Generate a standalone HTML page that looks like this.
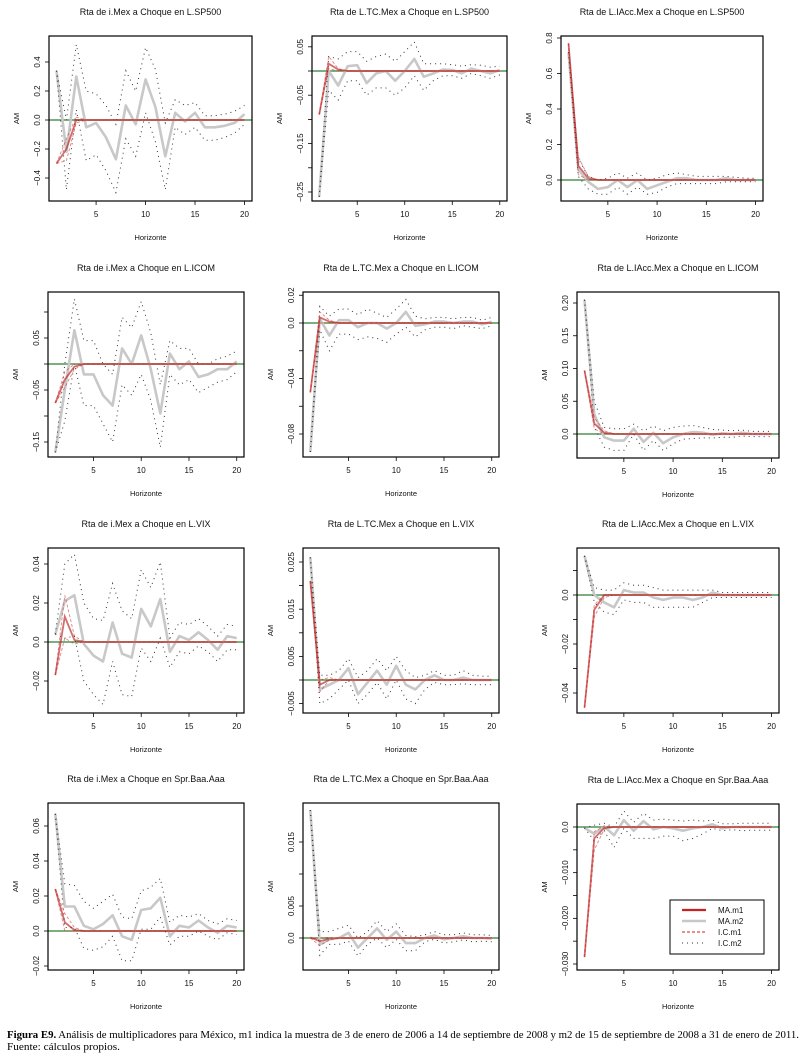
<!DOCTYPE html>
<html><head><meta charset="utf-8"><style>
html,body{margin:0;padding:0;background:#fff;}
svg{display:block;font-family:"Liberation Sans",Arial,sans-serif;}
</style></head><body>
<svg id="fig" width="812" height="1064" viewBox="0 0 812 1064" xmlns="http://www.w3.org/2000/svg">
<text x="7" y="1038" font-family="Liberation Serif, serif" font-size="10" textLength="792" lengthAdjust="spacingAndGlyphs"><tspan font-weight="bold">Figura E9.</tspan>   Análisis de multiplicadores para México, m1 indica la muestra de 3 de enero de 2006 a 14 de septiembre de 2008 y m2 de 15 de septiembre de 2008 a 31 de enero de 2011.</text>
<text x="7" y="1050" font-family="Liberation Serif, serif" font-size="10" textLength="113" lengthAdjust="spacingAndGlyphs">Fuente: cálculos propios.</text>
</svg>
<script>
const horizons=[1,2,3,4,5,6,7,8,9,10,11,12,13,14,15,16,17,18,19,20];
const titles=["Rta de i.Mex a Choque en L.SP500","Rta de L.TC.Mex a Choque en L.SP500","Rta de L.IAcc.Mex a Choque en L.SP500",
"Rta de i.Mex a Choque en L.ICOM","Rta de L.TC.Mex a Choque en L.ICOM","Rta de L.IAcc.Mex a Choque en L.ICOM",
"Rta de i.Mex a Choque en L.VIX","Rta de L.TC.Mex a Choque en L.VIX","Rta de L.IAcc.Mex a Choque en L.VIX",
"Rta de i.Mex a Choque en Spr.Baa.Aaa","Rta de L.TC.Mex a Choque en Spr.Baa.Aaa","Rta de L.IAcc.Mex a Choque en Spr.Baa.Aaa"];
const yTicks=[[-0.4,-0.2,0,0.2,0.4],[-0.25,-0.2,-0.15,-0.1,-0.05,0,0.05],[0,0.2,0.4,0.6,0.8],
[-0.15,-0.1,-0.05,0,0.05,0.1],[-0.08,-0.06,-0.04,-0.02,0,0.02],[0,0.05,0.1,0.15,0.2],
[-0.02,0,0.02,0.04],[-0.005,0,0.005,0.01,0.015,0.02,0.025],[-0.04,-0.03,-0.02,-0.01,0,0.01],
[-0.02,0,0.02,0.04,0.06],[0,0.005,0.01,0.015],[-0.03,-0.025,-0.02,-0.015,-0.01,-0.005,0]];
const yLabels=[["-0.4","-0.2","0.0","0.2","0.4"],["-0.25","","-0.15","","-0.05","","0.05"],["0.0","0.2","0.4","0.6","0.8"],
["-0.15","","-0.05","","0.05",""],["-0.08","","-0.04","","0.0","0.02"],["0.0","0.05","0.10","0.15","0.20"],
["-0.02","0.0","0.02","0.04"],["-0.005","","0.005","","0.015","","0.025"],["-0.04","","-0.02","","0.0",""],
["-0.02","0.0","0.02","0.04","0.06"],["0.0","0.005","","0.015"],["-0.030","","-0.020","","-0.010","","0.0"]];
const xTicks=[5,10,15,20];
const m1=[
[-0.30,-0.20,0.0,0,0,0,0,0,0,0,0,0,0,0,0,0,0,0,0,0],
[-0.09,0.015,0.003,0,0,0,0,0,0,0,0,0,0,0,0,0,0,0,0,0],
[0.77,0.08,0.01,0,0,0,0,0,0,0,0,0,0,0,0,0,0,0,0,0],
[-0.075,-0.03,-0.005,0,0,0,0,0,0,0,0,0,0,0,0,0,0,0,0,0],
[-0.05,0.004,0.001,0,0,0,0,0,0,0,0,0,0,0,0,0,0,0,0,0],
[0.097,0.016,0.002,0,0,0,0,0,0,0,0,0,0,0,0,0,0,0,0,0],
[-0.017,0.013,0.001,0,0,0,0,0,0,0,0,0,0,0,0,0,0,0,0,0],
[0.021,-0.001,0.0,0,0,0,0,0,0,0,0,0,0,0,0,0,0,0,0,0],
[-0.046,-0.006,0,0,0,0,0,0,0,0,0,0,0,0,0,0,0,0,0,0],
[0.024,0.005,0.0005,0,0,0,0,0,0,0,0,0,0,0,0,0,0,0,0,0],
[0.0001,-0.0005,-0.0001,0,0,0,0,0,0,0,0,0,0,0,0,0,0,0,0,0],
[-0.0285,-0.0025,-0.0002,0,0,0,0,0,0,0,0,0,0,0,0,0,0,0,0,0]];
const m1lo=[
[-0.30,-0.28,-0.02,0,0,0,0,0,0,0,0,0,0,0,0,0,0,0,0,0],
[-0.09,0.005,0,0,0,0,0,0,0,0,0,0,0,0,0,0,0,0,0,0],
[0.77,0.03,0,0,0,0,0,0,0,0,0,0,0,0,0,0,0,0,0,0],
[-0.075,-0.045,-0.01,0,0,0,0,0,0,0,0,0,0,0,0,0,0,0,0,0],
[-0.05,0.0,0,0,0,0,0,0,0,0,0,0,0,0,0,0,0,0,0,0],
[0.097,0.008,0,0,0,0,0,0,0,0,0,0,0,0,0,0,0,0,0,0],
[-0.017,0.002,-0.001,0,0,0,0,0,0,0,0,0,0,0,0,0,0,0,0,0],
[0.021,-0.0025,0,0,0,0,0,0,0,0,0,0,0,0,0,0,0,0,0,0],
[-0.046,-0.009,-0.001,0,0,0,0,0,0,0,0,0,0,0,0,0,0,0,0,0],
[0.024,0.0,0,0,0,0,0,0,0,0,0,0,0,0,0,0,0,0,0,0],
[0,-0.0012,-0.0003,0,0,0,0,0,0,0,0,0,0,0,0,0,0,0,0,0],
[-0.0285,-0.005,-0.0005,0,0,0,0,0,0,0,0,0,0,0,0,0,0,0,0,0]];
const m1hi=[
[-0.30,-0.13,0.02,0,0,0,0,0,0,0,0,0,0,0,0,0,0,0,0,0],
[-0.09,0.03,0.005,0,0,0,0,0,0,0,0,0,0,0,0,0,0,0,0,0],
[0.77,0.13,0.02,0,0,0,0,0,0,0,0,0,0,0,0,0,0,0,0,0],
[-0.075,-0.015,0.0,0,0,0,0,0,0,0,0,0,0,0,0,0,0,0,0,0],
[-0.05,0.008,0.002,0,0,0,0,0,0,0,0,0,0,0,0,0,0,0,0,0],
[0.097,0.025,0.005,0,0,0,0,0,0,0,0,0,0,0,0,0,0,0,0,0],
[-0.017,0.024,0.003,0,0,0,0,0,0,0,0,0,0,0,0,0,0,0,0,0],
[0.021,0.0,0.0005,0,0,0,0,0,0,0,0,0,0,0,0,0,0,0,0,0],
[-0.046,-0.004,0.0,0,0,0,0,0,0,0,0,0,0,0,0,0,0,0,0,0],
[0.024,0.01,0.002,0,0,0,0,0,0,0,0,0,0,0,0,0,0,0,0,0],
[0,0.0,0.0001,0,0,0,0,0,0,0,0,0,0,0,0,0,0,0,0,0],
[-0.0285,-0.001,0.0002,0,0,0,0,0,0,0,0,0,0,0,0,0,0,0,0,0]];
const m2=[
[0.34,-0.22,0.30,-0.05,-0.02,-0.12,-0.27,0.10,-0.03,0.28,0.09,-0.25,0.05,-0.01,0.05,-0.05,-0.05,-0.04,-0.02,0.04],
[-0.26,0.0,-0.03,0.01,0.012,-0.025,-0.005,0.0,-0.02,0.0,0.025,-0.012,-0.005,0.003,0.002,-0.005,0.005,0.0,-0.005,0.002],
[0.72,0.06,-0.01,-0.05,-0.04,0.0,-0.04,0.0,-0.05,-0.03,-0.01,0.01,0.01,0.0,0.0,0.0,0.01,0,0,0],
[-0.17,-0.05,0.065,-0.02,-0.02,-0.06,-0.08,0.03,0.0,0.055,-0.01,-0.095,0.02,-0.01,0.005,-0.025,-0.02,-0.01,-0.01,0.005],
[-0.093,0.003,-0.009,0.002,0.002,-0.003,0.0,0.0,-0.004,0.0,0.008,-0.002,-0.001,0.001,0.001,0,0.001,0.001,-0.001,0.001],
[0.205,0.03,-0.005,-0.01,-0.01,0.008,-0.012,0.002,-0.014,-0.005,0.0,0.003,0.002,-0.001,0.001,0,0.002,0,0,0],
[0.004,0.021,0.024,-0.001,-0.007,-0.010,0.010,-0.006,-0.008,0.017,0.008,0.022,-0.005,0.003,0.001,0.005,0.001,-0.004,0.003,0.002],
[0.026,-0.002,-0.001,0,0.0025,-0.003,-0.0005,0.002,-0.001,0.003,-0.001,-0.002,0,0.001,0,0,0.0005,0,0,0],
[0.016,0.0,-0.003,-0.005,0.002,0.001,0.001,-0.001,-0.002,-0.001,-0.001,-0.002,-0.001,0.001,0,0,0,0,0,0],
[0.067,0.014,0.014,0.003,0.001,0.004,0.009,-0.003,-0.005,0.012,0.013,0.019,-0.003,0.003,0.002,0.006,0.002,-0.001,0.003,0.002],
[0.02,-0.001,-0.0002,0,0.0008,-0.0015,0,0.0015,-0.0003,0.001,-0.0008,-0.0008,0,0.0004,-0.0002,0,0.0003,0,0,-0.0001],
[-0.0002,-0.0015,0.0001,-0.0018,0.0015,-0.0008,0.0013,-0.0005,0.0,-0.0003,-0.0008,-0.0003,0.0,0.0006,-0.0003,0.0,0.0,0,0,0]];
const m2lo=[
[0.34,-0.48,0.07,-0.28,-0.24,-0.35,-0.50,-0.13,-0.25,0.05,-0.15,-0.48,-0.05,-0.1,-0.05,-0.14,-0.14,-0.12,-0.09,-0.03],
[-0.26,-0.04,-0.06,-0.02,-0.02,-0.05,-0.035,-0.035,-0.05,-0.035,-0.01,-0.04,-0.02,-0.01,-0.01,-0.015,-0.005,-0.01,-0.015,-0.008],
[0.72,0.02,-0.05,-0.08,-0.08,-0.04,-0.08,-0.04,-0.08,-0.07,-0.04,-0.02,-0.02,-0.02,-0.02,-0.02,-0.01,-0.01,-0.01,-0.01],
[-0.17,-0.11,0.0,-0.08,-0.08,-0.115,-0.15,-0.04,-0.06,-0.02,-0.07,-0.16,-0.02,-0.04,-0.03,-0.055,-0.045,-0.035,-0.03,-0.015],
[-0.093,-0.005,-0.02,-0.008,-0.008,-0.012,-0.01,-0.011,-0.014,-0.008,-0.003,-0.01,-0.005,-0.003,-0.003,-0.004,-0.002,-0.003,-0.004,-0.002],
[0.205,0.01,-0.02,-0.025,-0.025,0.0,-0.025,-0.01,-0.025,-0.015,-0.008,-0.007,-0.006,-0.006,-0.005,-0.005,-0.003,-0.004,-0.004,-0.004],
[0.004,0.002,0.003,-0.02,-0.027,-0.032,-0.01,-0.027,-0.028,-0.003,-0.01,0.002,-0.013,-0.005,-0.006,-0.002,-0.005,-0.01,-0.004,-0.004],
[0.026,-0.005,-0.004,-0.002,0.0,-0.005,-0.003,-0.0005,-0.004,0.0,-0.004,-0.005,-0.002,-0.0005,-0.001,-0.001,-0.0008,-0.001,-0.001,-0.001],
[0.016,-0.003,-0.007,-0.008,-0.002,-0.003,-0.003,-0.005,-0.005,-0.005,-0.005,-0.005,-0.003,-0.001,-0.001,-0.001,-0.001,-0.001,-0.001,-0.001],
[0.067,0.002,0.002,-0.01,-0.011,-0.009,-0.003,-0.017,-0.017,0.001,0.001,0.008,-0.008,-0.003,-0.003,0.0,-0.003,-0.005,-0.001,-0.002],
[0.02,-0.0027,-0.001,-0.001,-0.0005,-0.0028,-0.001,0.0,-0.0015,-0.0002,-0.002,-0.002,-0.0006,-0.0002,-0.0008,-0.0006,-0.0003,-0.0006,-0.0005,-0.0006],
[-0.0002,-0.003,-0.0008,-0.0045,-0.0003,-0.0025,-0.0025,-0.0025,-0.002,-0.002,-0.003,-0.0025,-0.0015,-0.0003,-0.0008,-0.0006,-0.0008,-0.0007,-0.0007,-0.0007]];
const m2hi=[
[0.34,0.0,0.52,0.2,0.18,0.1,-0.03,0.34,0.2,0.50,0.35,-0.02,0.14,0.1,0.12,0.03,0.03,0.04,0.06,0.1],
[-0.26,0.03,0.025,0.04,0.04,0.02,0.03,0.035,0.02,0.04,0.06,0.015,0.015,0.015,0.013,0.01,0.013,0.012,0.008,0.01],
[0.72,0.12,0.02,0,0.01,0.04,0.01,0.04,0,0.01,0.03,0.04,0.03,0.02,0.02,0.02,0.02,0.015,0.01,0.01],
[-0.17,0.0,0.125,0.045,0.045,0.0,-0.02,0.09,0.07,0.12,0.06,-0.04,0.045,0.03,0.03,0.0,0.0,0.01,0.015,0.025],
[-0.093,0.012,0.005,0.01,0.01,0.006,0.01,0.007,0.004,0.01,0.017,0.005,0.003,0.004,0.004,0.003,0.004,0.004,0.002,0.004],
[0.205,0.05,0.01,0.008,0.008,0.015,0.005,0.012,0.005,0.01,0.012,0.013,0.01,0.007,0.006,0.005,0.006,0.004,0.004,0.004],
[0.004,0.04,0.045,0.02,0.012,0.011,0.03,0.016,0.012,0.037,0.028,0.041,0.002,0.01,0.009,0.012,0.008,0.003,0.009,0.008],
[0.026,0.001,0.001,0.002,0.0045,0.0005,0.002,0.0045,0.002,0.005,0.002,0.0005,0.001,0.002,0.001,0.001,0.002,0.001,0.0008,0.0008],
[0.016,0.003,0.002,0.002,0.005,0.004,0.004,0.003,0.002,0.002,0.002,0.002,0.002,0.002,0.001,0.001,0.001,0.001,0.001,0.001],
[0.067,0.027,0.026,0.017,0.013,0.017,0.021,0.008,0.007,0.023,0.025,0.03,0.005,0.009,0.008,0.01,0.006,0.004,0.007,0.006],
[0.02,0.001,0.001,0.0015,0.002,0,0.001,0.0027,0.001,0.0022,0.0004,0.0002,0.0005,0.001,0.0005,0.0005,0.0008,0.0005,0.0005,0.0004],
[-0.0002,0.0004,0.0008,0.0,0.0035,0.001,0.003,0.0015,0.0017,0.0015,0.0013,0.0015,0.0013,0.0015,0.0007,0.0007,0.0008,0.0008,0.0008,0.0008]];

const boxes=[
[49,252,36,201, 0,120, 0.4,62],[312,507,36,201, 0,71, -0.25,192],[561,763,36,201, 0,180, 0.8,38],
[48,244,292,457, 0,364, -0.15,442],[303,499,292,457, 0,323, -0.08,434],[577,779,292,458, 0,434, 0.2,303],
[48,244,548,713, 0,642, 0.04,564],[303,499,548,713, 0,680, 0.025,562],[577,779,548,713, 0,595, -0.04,693],
[48,244,803,970, 0,931, 0.06,826],[303,499,803,970, 0,938, 0.015,842],[577,779,804,970, 0,827, -0.03,964]];

const NS="http://www.w3.org/2000/svg";
const svg=document.getElementById('fig');
function mk(tag,attrs,parent){const e=document.createElementNS(NS,tag);for(const k in attrs)e.setAttribute(k,attrs[k]);(parent||svg).appendChild(e);return e;}

boxes.forEach((b,i)=>{
  const [L,R,T,B,va,pa,vb,pb]=b;
  const g=mk('g',{});
  
  
  const xs=v=>L+(v-0.24)/20.52*(R-L);
  const ys=v=>pa+(v-va)*(pb-pa)/(vb-va);
  const cx=(L+R)/2;
  const t=mk('text',{x:cx,y:T-21,'text-anchor':'middle','font-size':9,fill:'#111'},g);
  t.textContent=titles[i];
  
  
  const xl=mk('text',{x:cx,y:B+39,'text-anchor':'middle','font-size':7.5,fill:'#111'},g);
  xl.textContent='Horizonte';
  
  
  const yl=mk('text',{x:0,y:0,transform:`translate(${L-30},${(T+B)/2}) rotate(-90)`,'text-anchor':'middle','font-size':7.5,fill:'#111'},g);
  yl.textContent='AM';
  
  
  const cp=mk('clipPath',{id:'c'+i},g);
  mk('rect',{x:L,y:T,width:R-L,height:B-T},cp);
  const pg=mk('g',{'clip-path':`url(#c${i})`},g);
  const pts=arr=>arr.map((v,k)=>xs(horizons[k]).toFixed(1)+','+ys(v).toFixed(1)).join(' ');
  const l0=mk('line',{x1:L,x2:R,y1:ys(0),y2:ys(0),stroke:'#2e7d32','stroke-width':1.2},pg);
  
  
  const a=mk('polyline',{points:pts(m2[i]),fill:'none',stroke:'#c8c8c8','stroke-width':2.6,'stroke-linejoin':'round'},pg);
  
  
  [m2lo[i],m2hi[i]].forEach(s=>{
    const d=mk('polyline',{points:pts(s),fill:'none',stroke:'#333','stroke-width':1,'stroke-dasharray':'1 4'},pg);
    
    
  });
  const r=mk('polyline',{points:pts(m1[i]),fill:'none',stroke:'#b82020','stroke-width':1.8,'stroke-opacity':0.65},pg);
  
  
  [m1lo[i],m1hi[i]].forEach(s=>{
    const d=mk('polyline',{points:pts(s),fill:'none',stroke:'#d03030','stroke-width':0.9,'stroke-dasharray':'3 2','stroke-opacity':0.6},pg);
    
    
  });
  const bx=mk('rect',{x:L,y:T,width:R-L,height:B-T,fill:'none',stroke:'#000','stroke-width':1.2},g);
  
  
  xTicks.forEach(v=>{
    mk('line',{x1:xs(v),x2:xs(v),y1:B,y2:B+4,stroke:'#000','stroke-width':0.8},g);
    const tl=mk('text',{x:xs(v),y:B+16,'text-anchor':'middle','font-size':8,fill:'#111'},g);
    tl.textContent=v;
    
    
  });
  yTicks[i].forEach((v,k)=>{
    mk('line',{x1:L-4,x2:L,y1:ys(v),y2:ys(v),stroke:'#000','stroke-width':0.8},g);
    if(yLabels[i][k]){
      const tl=mk('text',{x:0,y:0,transform:`translate(${L-9},${ys(v)}) rotate(-90)`,'text-anchor':'middle','font-size':8,fill:'#111'},g);
      tl.textContent=yLabels[i][k].replace('-','\u2212');
      
      
    }
  });
});
const lg=mk('g',{});


mk('rect',{x:670,y:900,width:94,height:54,fill:'#fff',stroke:'#000','stroke-width':1},lg);
const entries=[['MA.m1','#c82020',2.2,''],['MA.m2','#c8c8c8',2.6,''],['I.C.m1','#c82020',0.9,'3 2'],['I.C.m2','#333',1,'1 4']];
entries.forEach((e,k)=>{
  const y=910+k*11;
  mk('line',{x1:682,x2:706,y1:y,y2:y,stroke:e[1],'stroke-width':e[2],'stroke-dasharray':e[3]},lg);
  const t=mk('text',{x:718,y:y+3,'font-size':8,fill:'#111'},lg);
  t.textContent=e[0];
  
  
});
</script>
</body></html>
